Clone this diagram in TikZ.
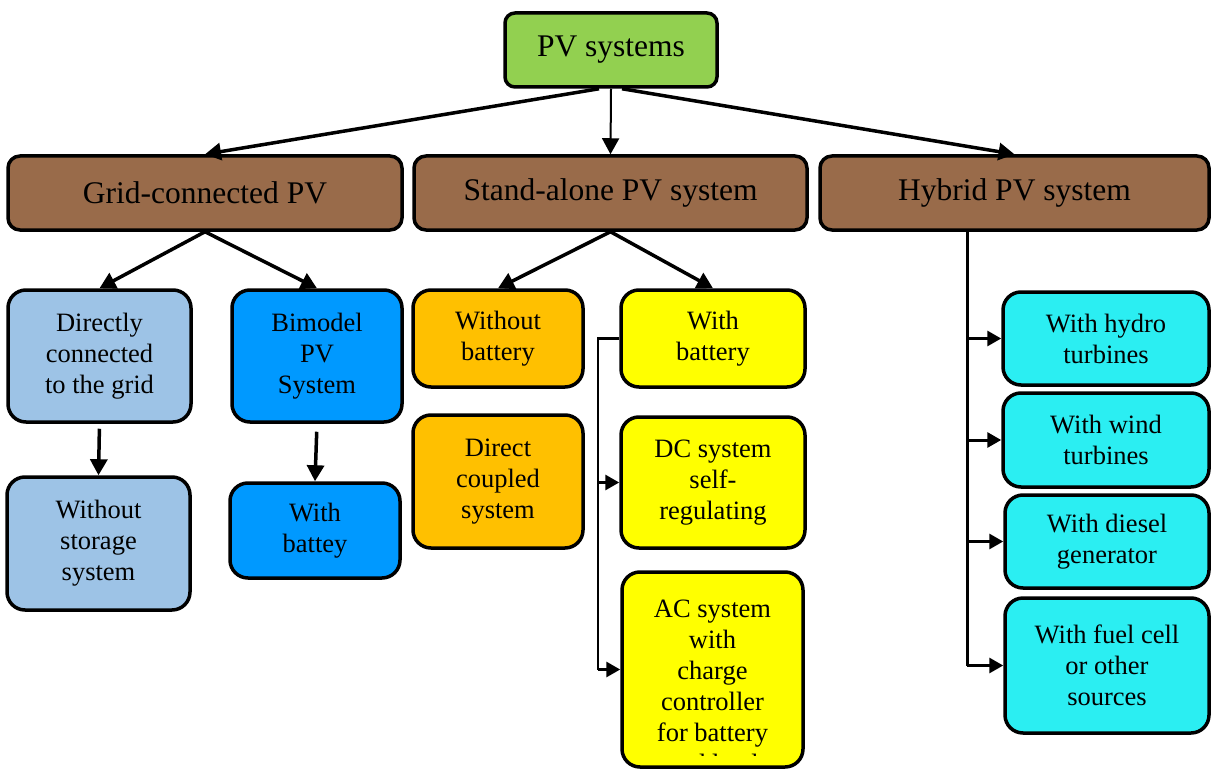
\documentclass[tikz,border=0pt]{standalone}
\usepackage{fontspec}
\setmainfont{Liberation Serif}
\usetikzlibrary{arrows.meta,calc}
\definecolor{cgreen}{RGB}{146,208,80}
\definecolor{cbrown}{RGB}{153,107,74}
\definecolor{clblue}{RGB}{157,195,230}
\definecolor{cblue}{RGB}{0,153,255}
\definecolor{corange}{RGB}{255,192,0}
\definecolor{cyellow}{RGB}{255,255,0}
\definecolor{ccyan}{RGB}{43,238,242}
\begin{document}
\begin{tikzpicture}[x=1pt,y=-1pt,
  box/.style={draw=black,line width=3.5pt,rounded corners=18pt,align=center,
    font=\fontsize{26.5}{31}\selectfont,inner sep=0pt},
  topbox/.style={box,rounded corners=12pt,font=\fontsize{31.5}{36}\selectfont},
  arr/.style={line width=3.5pt,-{Triangle[length=16pt,width=17pt]}},
  sidearr/.style={line width=3pt,-{Triangle[length=14pt,width=15pt]}},
  spine/.style={line width=3pt}]
\useasboundingbox (0,0) rectangle (1212,770);
\clip (0,0) rectangle (1212,770);
% top level
\node[topbox,fill=cgreen,minimum width=212pt,minimum height=74pt,rounded corners=10pt] (pv) at (611,50) {PV systems};
\node[topbox,fill=cbrown,minimum width=394pt,minimum height=74pt] (grid) at (205,193) {Grid-connected PV};
\node[topbox,fill=cbrown,minimum width=393pt,minimum height=74pt] (sa) at (610.5,193) {Stand-alone PV system};
\node[topbox,fill=cbrown,minimum width=389pt,minimum height=74pt] (hyb) at (1014.5,193) {Hybrid PV system};
% grid-connected branch
\node[box,fill=clblue,minimum width=183pt,minimum height=132pt] (dir) at (99.5,356) {Directly\\connected\\to the grid};
\node[box,fill=cblue,minimum width=170pt,minimum height=132pt] (bim) at (317,356) {Bimodel\\PV\\System};
\node[box,fill=clblue,minimum width=183pt,minimum height=133pt] (wos) at (98.5,543.5) {Without\\storage\\system};
\node[box,fill=cblue,minimum width=170pt,minimum height=95pt] (wbt) at (315,530.5) {With\\battey};
% stand-alone branch
\node[box,fill=corange,minimum width=170pt,minimum height=97pt] (wob) at (498,338.5) {Without\\battery};
\node[box,fill=corange,minimum width=170pt,minimum height=133pt] (dcp) at (498,481.5) {Direct\\coupled\\system};
\node[box,fill=cyellow,minimum width=184pt,minimum height=97pt] (wb) at (713,338.5) {With\\battery};
\node[box,fill=cyellow,minimum width=184pt,minimum height=131pt] (dc) at (713,482.5) {DC system\\self-\\regulating};
\node[box,fill=cyellow,minimum width=181pt,minimum height=195pt] (ac) at (712.5,669.5) {};
\begin{scope}
\clip (600,560) rectangle (820,755);
\node[align=center,font=\fontsize{26.5}{31}\selectfont,inner sep=0pt,anchor=north] (actext) at (712.5,600) {AC system\\with\\charge\\controller\\for battery\\and load};
\end{scope}
% hybrid branch
\node[box,fill=ccyan,minimum width=206pt,minimum height=93pt] (hyd) at (1106,338.5) {With hydro\\turbines};
\node[box,fill=ccyan,minimum width=206pt,minimum height=94pt] (wind) at (1106,440) {With wind\\turbines};
\node[box,fill=ccyan,minimum width=204pt,minimum height=93pt] (dies) at (1107,541.5) {With diesel\\generator};
\node[box,fill=ccyan,minimum width=204pt,minimum height=135pt] (fuel) at (1107,665.5) {With fuel cell\\or other\\sources};
% connectors
\draw[arr] ($(pv.south)+(-12,0)$) -- (grid.north);
\draw[arr,line width=2pt] (pv.south) -- (sa.north);
\draw[arr] ($(pv.south)+(11,0)$) -- (hyb.north);
\draw[arr] (grid.south) -- (dir.north);
\draw[arr] (grid.south) -- (bim.north);
\draw[arr,shorten <=5pt] (dir.south) -- (wos.north);
\draw[arr,shorten <=8pt] (bim.south) -- (wbt.north);
\draw[arr] (sa.south) -- (wob.north);
\draw[arr] (sa.south) -- (wb.north);
\coordinate (bx) at (598,0);
\draw[spine,line width=2.5pt] (wb.west) -| (bx |- ac.west);
\draw[sidearr] (bx |- dc.west) -- (dc.west);
\draw[sidearr] (bx |- ac.west) -- (ac.west);
\coordinate (hx) at (967,0);
\draw[spine] (hyb.south -| hx) -- (hx |- fuel.west);
\draw[sidearr] (hx |- hyd.west) -- (hyd.west);
\draw[sidearr] (hx |- wind.west) -- (wind.west);
\draw[sidearr] (hx |- dies.west) -- (dies.west);
\draw[sidearr] (hx |- fuel.west) -- (fuel.west);
\end{tikzpicture}
\end{document}
